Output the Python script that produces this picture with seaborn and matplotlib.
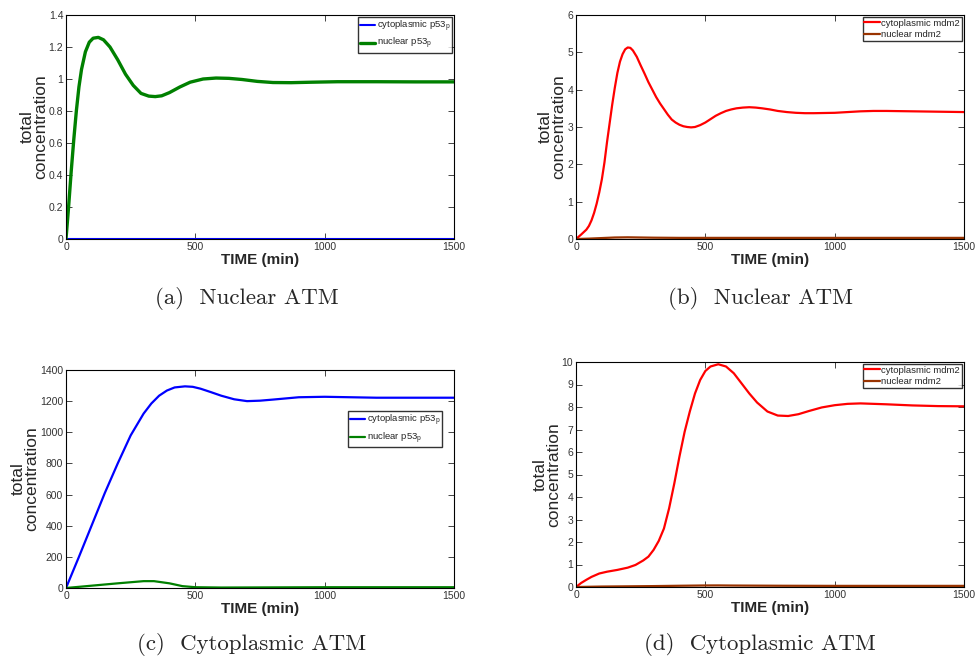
import numpy as np
import pandas as pd
import matplotlib
matplotlib.use("Agg")
import matplotlib.pyplot as plt
import seaborn as sns

# (a) nuclear ATM: p53p
t_a = [0, 10, 20, 30, 40, 50, 60, 75, 90, 105, 125, 145, 170, 200, 230, 260, 290, 320, 345,
       370, 400, 440, 480, 530, 580, 630, 680, 740, 800, 870, 950, 1050, 1200, 1350, 1500]
nuc_p53_a = [0, 0.2, 0.42, 0.62, 0.8, 0.95, 1.06, 1.17, 1.23, 1.255, 1.26, 1.245, 1.2, 1.12,
             1.03, 0.96, 0.91, 0.893, 0.89, 0.895, 0.915, 0.95, 0.98, 1.0, 1.006, 1.004,
             0.997, 0.985, 0.978, 0.977, 0.98, 0.983, 0.983, 0.982, 0.982]
t_a_cyt = [0, 500, 1000, 1500]
cyt_p53_a = [0, 0, 0, 0]

# (b) nuclear ATM: mdm2
t_b = [0, 20, 40, 50, 60, 70, 80, 90, 100, 110, 120, 130, 140, 150, 160, 170, 180, 190, 200,
       210, 220, 235, 250, 265, 280, 295, 310, 325, 340, 355, 370, 385, 400, 415, 430, 445,
       460, 480, 500, 520, 540, 560, 580, 600, 620, 645, 670, 695, 720, 750, 780, 815, 850,
       885, 920, 960, 1000, 1050, 1100, 1150, 1200, 1300, 1400, 1500]
cyt_mdm2_b = [0, 0.12, 0.25, 0.35, 0.5, 0.7, 0.95, 1.25, 1.6, 2.05, 2.6, 3.1, 3.6, 4.05,
              4.45, 4.75, 4.95, 5.08, 5.13, 5.12, 5.05, 4.88, 4.65, 4.43, 4.2, 4.0, 3.8,
              3.63, 3.48, 3.33, 3.2, 3.12, 3.06, 3.02, 3.0, 2.99, 3.0, 3.05, 3.12, 3.21,
              3.3, 3.37, 3.43, 3.47, 3.5, 3.52, 3.53, 3.52, 3.5, 3.47, 3.43, 3.4, 3.38,
              3.37, 3.37, 3.375, 3.38, 3.4, 3.42, 3.43, 3.43, 3.42, 3.41, 3.4]
t_b_nuc = [0, 50, 100, 150, 200, 250, 300, 400, 500, 700, 1000, 1500]
nuc_mdm2_b = [0, 0.01, 0.025, 0.04, 0.045, 0.04, 0.035, 0.03, 0.03, 0.03, 0.03, 0.03]

# (c) cytoplasmic ATM: p53p
t_c = [0, 50, 100, 150, 200, 250, 300, 330, 360, 390, 420, 460, 490, 520, 560, 600, 650,
       700, 750, 800, 900, 1000, 1100, 1200, 1350, 1500]
cyt_p53_c = [0, 200, 405, 610, 800, 980, 1120, 1185, 1235, 1268, 1288, 1295, 1292, 1280,
             1258, 1235, 1212, 1200, 1203, 1210, 1225, 1228, 1225, 1222, 1222, 1222]
t_c_nuc = [0, 100, 200, 300, 340, 400, 450, 500, 600, 800, 1000, 1500]
nuc_p53_c = [0, 15, 30, 44, 44, 30, 12, 5, 3, 4, 5, 5]

# (d) cytoplasmic ATM: mdm2
t_d = [0, 20, 40, 60, 90, 120, 160, 200, 230, 260, 280, 300, 320, 340, 360, 380, 400, 420,
       440, 460, 480, 500, 520, 550, 580, 610, 640, 670, 700, 740, 780, 820, 860, 900, 950,
       1000, 1050, 1100, 1200, 1300, 1400, 1500]
cyt_mdm2_d = [0, 0.18, 0.32, 0.45, 0.6, 0.68, 0.76, 0.86, 0.98, 1.18, 1.35, 1.65, 2.05, 2.6,
              3.5, 4.6, 5.8, 6.9, 7.8, 8.6, 9.2, 9.6, 9.8, 9.9, 9.8, 9.5, 9.05, 8.6, 8.2,
              7.8, 7.62, 7.6, 7.68, 7.82, 7.98, 8.08, 8.14, 8.16, 8.12, 8.07, 8.04, 8.03]
t_d_nuc = [0, 100, 200, 300, 400, 500, 550, 600, 800, 1000, 1500]
nuc_mdm2_d = [0, 0.02, 0.03, 0.04, 0.055, 0.068, 0.07, 0.065, 0.055, 0.05, 0.05]

BLUE = "#0000ff"
GREEN = "#008000"
RED = "#ff0000"
BROWN = "#993300"

sns.set_style("ticks")
plt.rcParams["font.family"] = ["Liberation Sans", "DejaVu Sans"]
plt.rcParams["mathtext.fontset"] = "custom"
plt.rcParams["mathtext.rm"] = "Liberation Sans"

fig = plt.figure(figsize=(9.76, 6.62), dpi=100)
W, H = 976, 662


def add_axes(left, top, right, bottom):
    return fig.add_axes([left / W, 1 - bottom / H, (right - left) / W, (bottom - top) / H])


def style(ax, yticks, ylim):
    ax.set_xlim(0, 1500)
    ax.set_ylim(*ylim)
    ax.set_xticks([0, 500, 1000, 1500])
    ax.set_yticks(yticks)
    ax.set_yticklabels([("%g" % v) for v in yticks])
    ax.tick_params(direction="in", top=True, right=True, length=4, width=0.6,
                   labelsize=7.5, labelcolor="#333333", pad=2)
    for s in ax.spines.values():
        s.set_visible(True)
        s.set_linewidth(0.8)
        s.set_color("black")
    ax.set_xlabel("TIME (min)", fontsize=11, fontweight="bold", labelpad=1)
    ax.set_ylabel("total\nconcentration", fontsize=12.5, labelpad=0.5, linespacing=0.87)


def legend(ax, **kw):
    leg = ax.legend(fontsize=6.8, frameon=True, fancybox=False, handlelength=1.6,
                    handletextpad=0.2, borderpad=0.2, labelspacing=0.25,
                    borderaxespad=0.2, **kw)
    leg.get_frame().set_edgecolor("black")
    leg.get_frame().set_linewidth(1.0)


def caption(x, y, text):
    fig.text(x / W, 1 - y / H, text, ha="center", va="center", fontsize=16.5, family="cmr10")


# (a)
ax = add_axes(66, 15, 454, 239)
sns.lineplot(x=t_a_cyt, y=cyt_p53_a, ax=ax, color=BLUE, lw=1.5, label=r"cytoplasmic p53$_\mathrm{p}$")
sns.lineplot(x=t_a, y=nuc_p53_a, ax=ax, color=GREEN, lw=2.4, label=r"nuclear p53$_\mathrm{p}$")
style(ax, [0, 0.2, 0.4, 0.6, 0.8, 1, 1.2, 1.4], (0, 1.4))
legend(ax, loc="upper right", bbox_to_anchor=(1.0, 1.0))
caption(247, 298, "(a)  Nuclear ATM")

# (b)
ax = add_axes(576, 15, 964, 239)
sns.lineplot(x=t_b, y=cyt_mdm2_b, ax=ax, color=RED, lw=1.6, label="cytoplasmic mdm2")
sns.lineplot(x=t_b_nuc, y=nuc_mdm2_b, ax=ax, color=BROWN, lw=1.6, label="nuclear mdm2")
style(ax, [0, 1, 2, 3, 4, 5, 6], (0, 6))
legend(ax, loc="upper right", bbox_to_anchor=(1.0, 1.0))
caption(760, 298, "(b)  Nuclear ATM")

# (c)
ax = add_axes(66, 370, 454, 588)
sns.lineplot(x=t_c, y=cyt_p53_c, ax=ax, color=BLUE, lw=1.6, label=r"cytoplasmic p53$_\mathrm{p}$")
sns.lineplot(x=t_c_nuc, y=nuc_p53_c, ax=ax, color=GREEN, lw=1.6, label=r"nuclear p53$_\mathrm{p}$")
style(ax, [0, 200, 400, 600, 800, 1000, 1200, 1400], (0, 1400))
legend(ax, loc="upper right", bbox_to_anchor=(0.975, 0.82))
caption(252, 645, "(c)  Cytoplasmic ATM")

# (d)
ax = add_axes(576, 362, 964, 587)
sns.lineplot(x=t_d, y=cyt_mdm2_d, ax=ax, color=RED, lw=1.6, label="cytoplasmic mdm2")
sns.lineplot(x=t_d_nuc, y=nuc_mdm2_d, ax=ax, color=BROWN, lw=1.6, label="nuclear mdm2")
style(ax, list(range(0, 11)), (0, 10))
legend(ax, loc="upper right", bbox_to_anchor=(1.0, 1.0))
caption(760, 645, "(d)  Cytoplasmic ATM")

fig.savefig("out.png", dpi=100)
